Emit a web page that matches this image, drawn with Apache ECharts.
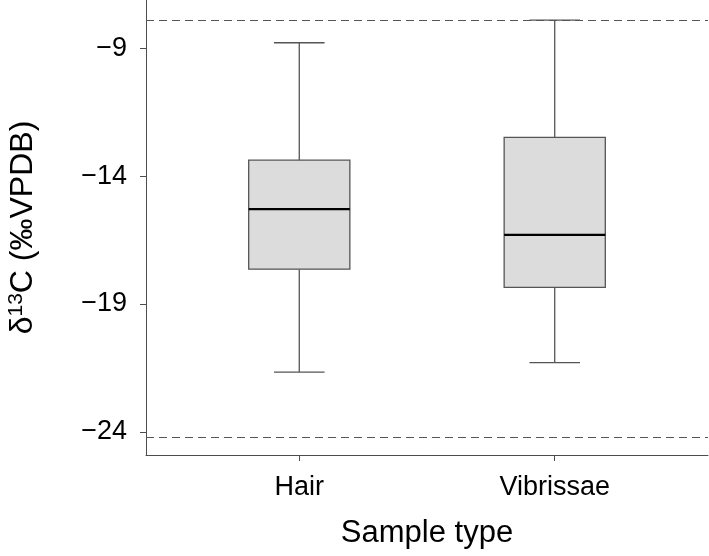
<!DOCTYPE html>
<html>
<head>
<meta charset="utf-8">
<script src="https://cdn.jsdelivr.net/npm/echarts@6/dist/echarts.min.js"></script>
<style>
  html, body { margin: 0; padding: 0; background: #fff; }
  #chart { width: 709px; height: 556px; }
</style>
</head>
<body>
<div id="chart"></div>
<script>
// sample types and their x positions on the discrete scale
const categories = ['Hair', 'Vibrissae']
const catPos = [1, 2]
// box stats: [min, Q1, median, Q3, max]
const boxStats = [
  [-21.66, -17.64, -15.29, -13.38, -8.79],
  [-21.29, -18.35, -16.30, -12.49, -7.91]
]
// dashed reference lines
const refLines = [-7.9, -24.22]
const yTicks = [-24, -19, -14, -9]

const chart = echarts.init(document.getElementById('chart'))
const font = 'Liberation Sans'
const axisCol = '#4d4d4d'

const seriesData = catPos.map((x, i) => [x].concat(boxStats[i]))

const option = {
  animation: false,
  textStyle: { fontFamily: font },
  grid: { left: 146, right: 1, top: 0, bottom: 101, outerBoundsMode: 'none' },
  xAxis: {
    type: 'value',
    min: 0.4,
    max: 2.6,
    name: 'Sample type',
    nameLocation: 'middle',
    nameGap: 63,
    nameTextStyle: { fontSize: 31, color: '#000', fontFamily: font },
    axisLine: { show: true, onZero: false, lineStyle: { color: axisCol, width: 1 } },
    axisTick: { show: true, customValues: catPos, length: 6, lineStyle: { color: axisCol } },
    axisLabel: {
      customValues: catPos,
      fontSize: 27,
      color: '#000',
      margin: 19,
      formatter: v => categories[catPos.indexOf(Math.round(v))] || ''
    },
    splitLine: { show: false }
  },
  yAxis: {
    type: 'value',
    min: -24.9,
    max: -7.12,
    name: '{d|δ}{sup|13}{d|C (‰VPDB)}',
    nameLocation: 'middle',
    nameGap: 106,
    nameRotate: 90,
    nameTextStyle: {
      color: '#000',
      rich: {
        d: { fontSize: 32, fontFamily: font, color: '#000' },
        sup: { fontSize: 21, fontFamily: font, color: '#000', padding: [0, 0, 13, 0] }
      }
    },
    axisLine: { show: true, onZero: false, lineStyle: { color: axisCol, width: 1 } },
    axisTick: { show: true, customValues: yTicks, length: 6, lineStyle: { color: axisCol } },
    axisLabel: {
      customValues: yTicks,
      fontSize: 27,
      color: '#000',
      margin: 19,
      formatter: v => String(v).replace('-', '\u2212')
    },
    splitLine: { show: false }
  },
  series: [
    {
      type: 'custom',
      data: seriesData,
      encode: { x: 0, y: [1, 2, 3, 4, 5] },
      renderItem: function (params, api) {
        const x = api.value(0)
        const halfW = 0.198
        const pMin = api.coord([x, api.value(1)])
        const pQ1 = api.coord([x, api.value(2)])
        const pMed = api.coord([x, api.value(3)])
        const pQ3 = api.coord([x, api.value(4)])
        const pMax = api.coord([x, api.value(5)])
        const left = api.coord([x - halfW, 0])[0]
        const right = api.coord([x + halfW, 0])[0]
        const capL = api.coord([x - halfW / 2, 0])[0]
        const capR = api.coord([x + halfW / 2, 0])[0]
        const lineStyle = { stroke: '#555', lineWidth: 1.3 }
        return {
          type: 'group',
          children: [
            { type: 'line', shape: { x1: pMax[0], y1: pMax[1], x2: pQ3[0], y2: pQ3[1] }, style: lineStyle },
            { type: 'line', shape: { x1: pQ1[0], y1: pQ1[1], x2: pMin[0], y2: pMin[1] }, style: lineStyle },
            { type: 'line', shape: { x1: capL, y1: pMax[1], x2: capR, y2: pMax[1] }, style: lineStyle },
            { type: 'line', shape: { x1: capL, y1: pMin[1], x2: capR, y2: pMin[1] }, style: lineStyle },
            {
              type: 'rect',
              shape: { x: left, y: pQ3[1], width: right - left, height: pQ1[1] - pQ3[1] },
              style: { fill: '#dcdcdc', stroke: '#555', lineWidth: 1.3 }
            },
            { type: 'line', shape: { x1: left, y1: pMed[1], x2: right, y2: pMed[1] }, style: { stroke: '#000', lineWidth: 2.2 } }
          ]
        }
      },
      markLine: {
        silent: true,
        symbol: 'none',
        label: { show: false },
        lineStyle: { color: '#555', type: [8, 5], width: 1 },
        data: refLines.map(v => ({ yAxis: v }))
      }
    }
  ]
}
chart.setOption(option)
</script>
</body>
</html>
